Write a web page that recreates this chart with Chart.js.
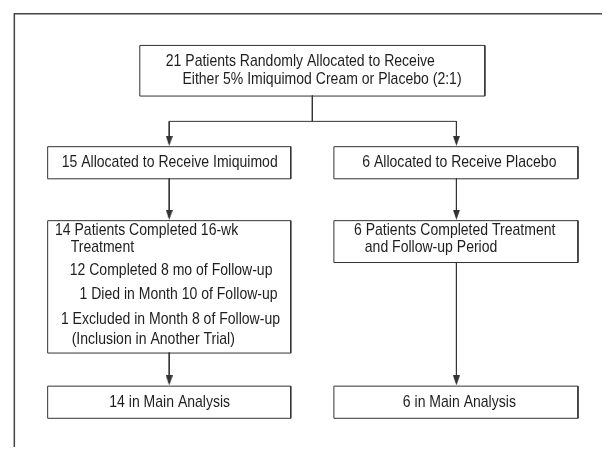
<!DOCTYPE html>
<html>
<head>
<meta charset="utf-8">
<script src="https://cdn.jsdelivr.net/npm/chart.js@4.4.1/dist/chart.umd.min.js"></script>
<style>
  html, body { margin: 0; padding: 0; background: #fff; }
  canvas { display: block; }
</style>
</head>
<body>
<canvas id="flow" width="608" height="453"></canvas>
<script>
// Patient counts at each stage
const randomized = 21;
const allocated = [15, 6];      // imiquimod, placebo
const completed = [14, 6];
const analysed = [14, 6];

// Box texts, one entry per line
const topLines = [
    `${randomized} Patients Randomly Allocated to Receive`,
    'Either 5% Imiquimod Cream or Placebo (2:1)'
];
const armLabels = [
    `${allocated[0]} Allocated to Receive Imiquimod`,
    `${allocated[1]} Allocated to Receive Placebo`
];
const imiquimodLines = [
    `${completed[0]} Patients Completed 16-wk`,
    'Treatment',
    '12 Completed 8 mo of Follow-up',
    '1 Died in Month 10 of Follow-up',
    '1 Excluded in Month 8 of Follow-up',
    '(Inclusion in Another Trial)'
];
const placeboLines = [
    `${completed[1]} Patients Completed Treatment`,
    'and Follow-up Period'
];
const analysisLabels = [
    `${analysed[0]} in Main Analysis`,
    `${analysed[1]} in Main Analysis`
];

// Layout in chart units (x0, y0, x1, y1)
const topBox = [136, 40, 488, 92];
const armBoxes = [[42, 144, 290, 177], [334, 144, 583, 177]];
const doneBoxes = [[42, 220, 290, 356], [334, 220, 583, 263]];
const mainBoxes = [[42, 390, 290, 423], [334, 390, 583, 423]];
const splitY = 118;

// Text anchors
const topLineX = [163, 180];
const topLineY = [57, 75];
const imiquimodX = [50, 66, 65, 75, 56, 67];
const imiquimodY = [230, 248, 272, 296, 322, 342];
const placeboX = [355, 366];
const placeboY = [230, 248];
const centreShift = [1, 4];

const lineColor = '#333333';
const textColor = '#1e1e1e';
const fontSpec = '17px "Liberation Sans", Arial, sans-serif';

function rect(b) {
    const [x0, y0, x1, y1] = b;
    return [{x: x0, y: y0}, {x: x1, y: y0}, {x: x1, y: y1}, {x: x0, y: y1}, {x: x0, y: y0}];
}

function midX(b) {
    return Math.round((b[0] + b[2]) / 2) + 0.5;
}

function lineSet(points, color, width) {
    return {
        type: 'scatter',
        data: points,
        showLine: true,
        borderColor: color || lineColor,
        borderWidth: width || 1,
        pointRadius: 0,
        fill: false
    };
}

// Arrowhead image used as a point style
function arrowHead() {
    const c = document.createElement('canvas');
    c.width = 7;
    c.height = 10;
    const g = c.getContext('2d');
    g.fillStyle = lineColor;
    g.beginPath();
    g.moveTo(0, 0);
    g.lineTo(7, 0);
    g.lineTo(3.5, 10);
    g.closePath();
    g.fill();
    return c;
}

function buildDatasets() {
    const sets = [];
    // outer frame (top and left edges only)
    sets.push(lineSet([{x: 608, y: 8}, {x: 8.5, y: 8}, {x: 8.5, y: 453}], '#444444', 1.5));

    // boxes
    [topBox, ...armBoxes, ...doneBoxes, ...mainBoxes].forEach(b => {
        sets.push(lineSet(rect(b.map(v => v + 0.5))));
    });

    // connectors
    const tx = midX(topBox);
    const lx = midX(armBoxes[0]);
    const rx = midX(armBoxes[1]);
    const sy = splitY + 0.5;
    sets.push(lineSet([{x: tx, y: topBox[3]}, {x: tx, y: sy}]));
    sets.push(lineSet([{x: lx, y: sy}, {x: rx, y: sy}]));

    const arrows = [];
    [[armBoxes, null], [doneBoxes, armBoxes], [mainBoxes, doneBoxes]].forEach(([to, from]) => {
        to.forEach((b, i) => {
            const x = midX(b);
            const y0 = from ? from[i][3] : sy;
            sets.push(lineSet([{x: x, y: y0}, {x: x, y: b[1] - 3}]));
            arrows.push({x: x, y: b[1] - 5.5});
        });
    });

    sets.push({
        type: 'scatter',
        data: arrows,
        pointStyle: arrowHead(),
        pointRadius: 5,
        showLine: false
    });
    return sets;
}

// Draws box texts at chart-unit anchors through the scales
const textPlugin = {
    id: 'boxText',
    afterDatasetsDraw(chart) {
        const ctx = chart.ctx;
        const xs = chart.scales.x;
        const ys = chart.scales.y;
        ctx.save();
        ctx.font = fontSpec;
        ctx.fillStyle = textColor;
        ctx.textBaseline = 'middle';
        // condensed face: squeeze horizontally to the reference width
        const squeeze = 216 / ctx.measureText(armLabels[0]).width;

        function put(text, x, y, align) {
            ctx.save();
            ctx.translate(xs.getPixelForValue(x), ys.getPixelForValue(y));
            ctx.scale(squeeze, 1);
            ctx.textAlign = align;
            ctx.fillText(text, 0, 0);
            ctx.restore();
        }

        topLines.forEach((t, i) => put(t, topLineX[i], topLineY[i], 'left'));
        armLabels.forEach((t, i) => put(t, (armBoxes[i][0] + armBoxes[i][2]) / 2 + centreShift[i], (armBoxes[i][1] + armBoxes[i][3]) / 2 + 0.5, 'center'));
        imiquimodLines.forEach((t, i) => put(t, imiquimodX[i], imiquimodY[i], 'left'));
        placeboLines.forEach((t, i) => put(t, placeboX[i], placeboY[i], 'left'));
        analysisLabels.forEach((t, i) => put(t, (mainBoxes[i][0] + mainBoxes[i][2]) / 2 + centreShift[i], (mainBoxes[i][1] + mainBoxes[i][3]) / 2 + 0.5, 'center'));
        ctx.restore();
    }
};

function createFlowChart() {
    const ctx = document.getElementById('flow').getContext('2d');
    new Chart(ctx, {
        type: 'scatter',
        data: { datasets: buildDatasets() },
        options: {
            responsive: false,
            animation: false,
            devicePixelRatio: 1,
            layout: { padding: 0 },
            plugins: {
                legend: { display: false },
                tooltip: { enabled: false }
            },
            scales: {
                x: { type: 'linear', min: 0, max: 608, display: false },
                y: { type: 'linear', min: 0, max: 453, reverse: true, display: false }
            },
            elements: { line: { tension: 0 } }
        },
        plugins: [textPlugin]
    });
}

document.fonts.ready.then(createFlowChart);
</script>
</body>
</html>
